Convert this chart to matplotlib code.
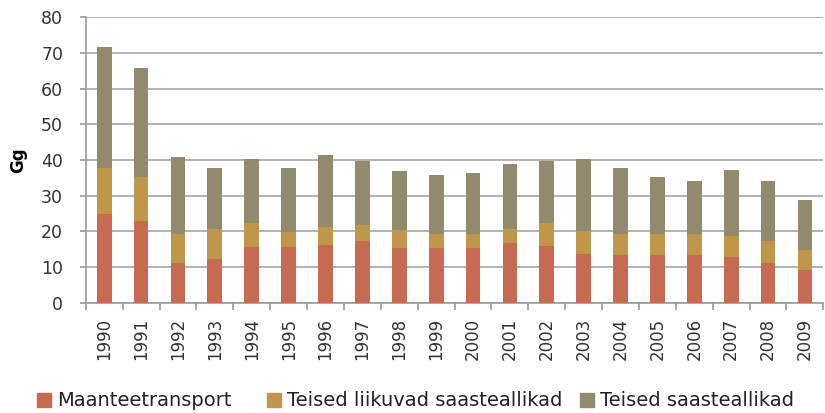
import matplotlib
matplotlib.use("Agg")
import matplotlib.pyplot as plt
from matplotlib.patches import Patch
import numpy as np

years = [str(y) for y in range(1990, 2010)]
road = [24.8, 22.8, 11.2, 12.3, 15.7, 15.7, 16.3, 17.3, 15.3, 15.3,
        15.3, 16.8, 15.8, 13.7, 13.3, 13.3, 13.3, 12.7, 11.2, 9.2]
mobile_top = [37.9, 35.3, 19.3, 20.7, 22.3, 19.8, 21.2, 21.8, 20.3, 19.3,
              19.3, 20.8, 22.3, 20.2, 19.3, 19.3, 19.3, 18.7, 17.2, 14.7]
total = [71.6, 65.9, 40.8, 37.9, 40.4, 37.9, 41.3, 39.7, 36.8, 35.8,
         36.3, 38.8, 39.7, 40.3, 37.8, 35.3, 34.2, 37.3, 34.2, 28.7]
other_mobile = [m - r for m, r in zip(mobile_top, road)]
other = [t - m for t, m in zip(total, mobile_top)]

labels = ["Maanteetransport", "Teised liikuvad saasteallikad", "Teised saasteallikad"]
colors = ["#C66A51", "#C0964A", "#928A6C"]
yticks = [0, 10, 20, 30, 40, 50, 60, 70, 80]

fig = plt.figure(figsize=(8.25, 4.13), dpi=100)
ax = fig.add_axes([0.104, 0.267, 0.894, 0.691])

x = np.arange(len(years))
w = 0.4
b1 = ax.bar(x, road, w, color=colors[0], zorder=3)
b2 = ax.bar(x, other_mobile, w, bottom=road, color=colors[1], zorder=3)
b3 = ax.bar(x, other, w, bottom=mobile_top, color=colors[2], zorder=3)

ax.set_xlim(-0.5, len(years) - 0.5)
ax.set_ylim(0, 80)
ax.set_yticks(yticks)
ax.set_yticklabels([str(v) for v in yticks], fontsize=12.5, color="#333333")
ax.yaxis.grid(True, color="#a6a6a6", linewidth=1.2, zorder=0)
ax.set_axisbelow(True)

ax.set_xticks(x)
ax.set_xticklabels(years, rotation=90, fontsize=12, color="#333333")
ax.tick_params(axis="x", which="major", length=0, pad=11)
ax.set_xticks(np.arange(-0.5, len(years) + 0.5, 1), minor=True)
ax.tick_params(axis="x", which="minor", length=5, color="#9a9a9a", width=1.2)
ax.tick_params(axis="y", length=4.3, color="#9a9a9a", width=1.2, pad=12)

for s in ["top", "right"]:
    ax.spines[s].set_visible(False)
for s in ["left", "bottom"]:
    ax.spines[s].set_color("#9a9a9a")
    ax.spines[s].set_linewidth(1.2)

ax.set_ylabel("Gg", fontsize=12, fontweight="bold")
ax.yaxis.set_label_coords(-0.079, 0.5)

marker_x = [37, 267, 580]
for lab, col, mx in zip(labels, colors, marker_x):
    fig.legend(handles=[Patch(color=col)], labels=[lab], loc="center left",
               bbox_to_anchor=(mx / 825, 1 - 401 / 413), frameon=False,
               fontsize=14, handlelength=0.7, handleheight=0.7,
               handletextpad=0.35, borderpad=0, borderaxespad=0,
               labelcolor="#222222")

fig.savefig("out.png", dpi=100)
